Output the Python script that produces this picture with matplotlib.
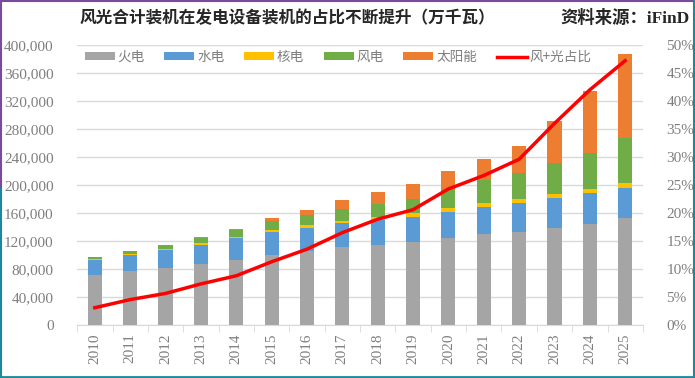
import matplotlib
matplotlib.use('Agg')
import matplotlib.pyplot as plt
from matplotlib.lines import Line2D
from matplotlib.ticker import FuncFormatter
import numpy as np

plt.rcParams['font.family'] = ['Liberation Serif', 'Noto Sans CJK SC']

# data (万千瓦)
years = ['2010', '2011', '2012', '2013', '2014', '2015', '2016', '2017',
         '2018', '2019', '2020', '2021', '2022', '2023', '2024', '2025']
thermal = [70967, 76834, 81968, 87009, 93232, 100554, 106094, 111009,
           114408, 119055, 124517, 129678, 133239, 139032, 144445, 152400]
hydro = [21606, 23298, 24947, 28044, 30486, 31954, 33207, 34411,
         35259, 35804, 37016, 39092, 41350, 42154, 43595, 43800]
nuclear = [1082, 1257, 1257, 1466, 2008, 2717, 3364, 3582,
           4466, 4874, 4989, 5326, 5553, 5691, 6083, 7000]
wind = [2958, 4623, 6142, 7652, 9657, 13075, 14747, 16400,
        18427, 21005, 28153, 32848, 36544, 44134, 52068, 64000]
solar = [26, 212, 341, 1589, 2486, 4218, 7631, 13042,
         17433, 20468, 25343, 30656, 39261, 60949, 88666, 120000]
share = [3.1, 4.55, 5.65, 7.35, 8.8, 11.3, 13.55, 16.5,
         18.9, 20.6, 24.3, 26.7, 29.6, 36.0, 42.0, 47.2]

series = [('火电', thermal, '#A5A5A5'),
          ('水电', hydro, '#5B9BD5'),
          ('核电', nuclear, '#FFC000'),
          ('风电', wind, '#70AD47'),
          ('太阳能', solar, '#ED7D31')]

cjk = ['Noto Sans CJK SC', 'DejaVu Sans']
tick_color = '#7F7F7F'
grid_color = '#D9D9D9'

fig = plt.figure(figsize=(6.95, 3.78), dpi=100)
ax = fig.add_axes([0.111, 0.140, 0.814, 0.741])
x = np.arange(len(years))

bottom = np.zeros(len(years))
handles = []
for name, vals, color in series:
    b = ax.bar(x, vals, 0.4, bottom=bottom, color=color, label=name, zorder=3)
    bottom += np.array(vals)
    handles.append(b)

ax.set_xlim(-0.5, len(years) - 0.5)
ax.set_ylim(0, 400000)
ax.set_yticks(np.arange(0, 400001, 40000))
ax.yaxis.set_major_formatter(FuncFormatter(lambda v, p: '{:,.0f}'.format(v)))
ax.grid(axis='y', color=grid_color, lw=1, zorder=0)
ax.set_axisbelow(True)
for s in ['top', 'right', 'left']:
    ax.spines[s].set_visible(False)
ax.spines['bottom'].set_color(grid_color)
ax.spines['bottom'].set_zorder(4)
ax.set_xticks(x)
ax.set_xticklabels(years, rotation=90)
ax.set_xticks(np.arange(-0.5, len(years), 1), minor=True)
ax.tick_params(axis='x', which='major', length=0, pad=6, labelsize=11, labelcolor=tick_color)
ax.tick_params(axis='x', which='minor', length=5, color=grid_color)
ax.tick_params(axis='y', length=0, pad=17, labelsize=11, labelcolor=tick_color)

ax2 = ax.twinx()
line, = ax2.plot(x, share, color='#FF0000', lw=2.5, zorder=5, label='风+光占比')
ax2.set_ylim(0, 50)
ax2.set_yticks(np.arange(0, 51, 5))
ax2.yaxis.set_major_formatter(FuncFormatter(lambda v, p: '%d%%' % v))
ax2.tick_params(axis='y', length=0, pad=17, labelsize=11, labelcolor=tick_color)
for s in ax2.spines.values():
    s.set_visible(False)

leg = fig.legend(handles + [line], [s[0] for s in series] + ['风+光占比'],
                 loc='center left', bbox_to_anchor=(0.122, 0.849), ncol=6,
                 frameon=False, handlelength=2.2, handleheight=0.5,
                 columnspacing=1.45, handletextpad=0.2, borderaxespad=0,
                 borderpad=0, prop={'family': cjk, 'size': 9.8})
for t in leg.get_texts():
    t.set_color('#7F7F7F')

fig.text(0.114, 0.952, '风光合计装机在发电设备装机的占比不断提升（万千瓦）',
         family=cjk, fontsize=12, fontweight='bold', color='#262626', va='center')
fig.text(0.993, 0.952, '资料来源：iFinD', family=['Liberation Serif', 'Noto Sans CJK SC'],
         fontsize=12.5, fontweight='bold', color='#262626', va='center', ha='right')

# image border
fig.add_artist(Line2D([0, 1], [0.998, 0.998], color='#7B4A9A', lw=1.5, transform=fig.transFigure))
fig.add_artist(Line2D([0.002, 0.002], [0.5, 1], color='#7B4A9A', lw=1.5, transform=fig.transFigure))
fig.add_artist(Line2D([0.002, 0.002], [0, 0.5], color='#1A8A9A', lw=1.5, transform=fig.transFigure))
fig.add_artist(Line2D([0, 1], [0.003, 0.003], color='#1A8A9A', lw=2, transform=fig.transFigure))
fig.add_artist(Line2D([0.998, 0.998], [0, 1], color='#1A8A9A', lw=1.5, transform=fig.transFigure))

fig.savefig('out.png', dpi=100)
